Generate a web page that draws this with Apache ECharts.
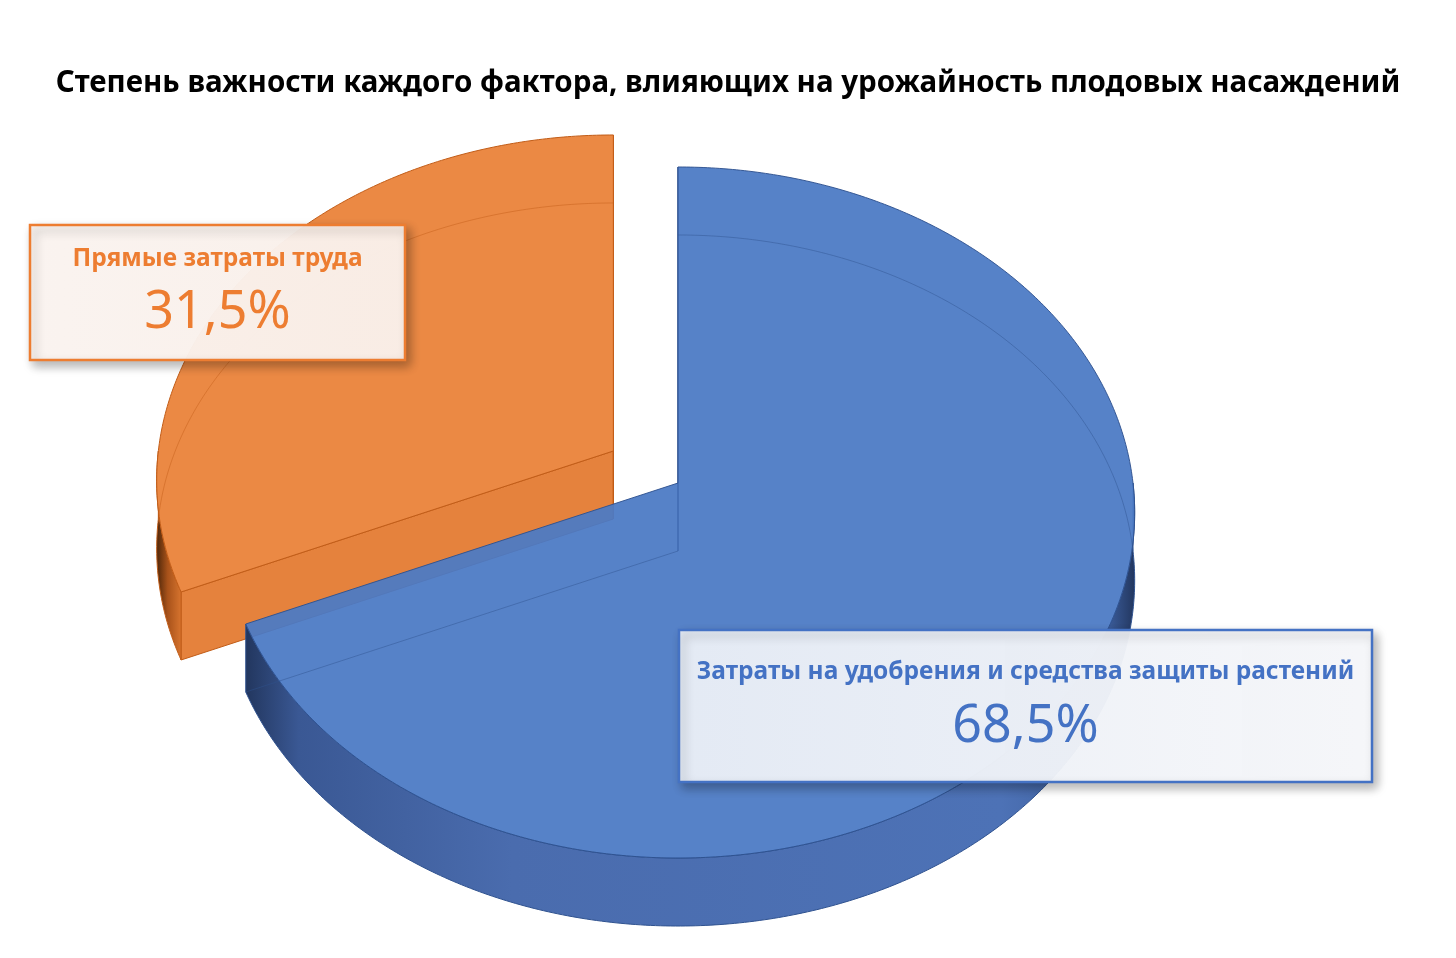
<!DOCTYPE html>
<html lang="ru">
<head>
    <meta charset="UTF-8">
    <title>Степень важности каждого фактора</title>
    <script src="https://cdn.jsdelivr.net/npm/echarts@6/dist/echarts.min.js"></script>
    <style>
        html, body { margin: 0; padding: 0; background: #fff; }
        #container { width: 1456px; height: 958px; }
    </style>
</head>
<body>
<div id="container"></div>

<script type="text/javascript">
    // данные диаграммы
    var categories = ['Затраты на удобрения и средства защиты растений', 'Прямые затраты труда'];
    var shares = [68.5, 31.5];

    // оформление секторов
    var sliceColors = ['#4B7AC5', '#EB8944'];
    var textColors = ['#4472C4', '#ED7D31'];
    var edgeColors = ['#2F528F', '#C15C17'];
    var explode = [0, 0.17];

    // геометрия "3D" круга (псевдоперспектива как в Excel)
    var CX = 678, CY = 483, RX = 455, RY = 343, K = 0.0854, DEPTH = 68;
    // рамки подписей: x, y, ширина, высота
    var labelBoxes = [[679, 630, 693, 152], [30, 225, 375, 135]];

    var total = shares.reduce(function (a, b) { return a + b; }, 0);

    // проекция точки круга; выдвинутый сектор просто сдвигается на экране
    function proj(u, v, down, ex, ev) {
        var s = 1 / (1 - K * v);
        return [CX + RX * u * s + RX * ex, CY + RY * v * s + RY * ev + down];
    }

    function arc(a0, a1, ex, ev, down) {
        var pts = [];
        var n = Math.max(2, Math.ceil((a1 - a0) / 0.01));
        for (var k = 0; k <= n; k++) {
            var a = a0 + (a1 - a0) * k / n;
            pts.push(proj(Math.sin(a), -Math.cos(a), down, ex, ev));
        }
        return pts;
    }

    function pctText(v) {
        return (v / total * 100).toFixed(1).replace('.', ',') + '%';
    }

    function renderSlice(params, api) {
        var i = params.dataIndex;
        var before = 0;
        for (var j = 0; j < i; j++) before += shares[j];
        var start = before / total * Math.PI * 2;
        var end = (before + api.value(0)) / total * Math.PI * 2;
        var mid = (start + end) / 2;
        var ex = explode[i] * Math.sin(mid);
        var ev = -explode[i] * Math.cos(mid);
        var base = (shares.length - i) * 10;
        var kids = [];

        var apexTop = proj(0, 0, 0, ex, ev);
        var apexBot = proj(0, 0, DEPTH, ex, ev);
        var faint = { stroke: edgeColors[i], lineWidth: 1, opacity: 0.45, fill: null };

        // радиальные грани
        [[start, -Math.sin(start)], [end, Math.sin(end)]].forEach(function (f) {
            var a = f[0];
            var rt = proj(Math.sin(a), -Math.cos(a), 0, ex, ev);
            var rb = proj(Math.sin(a), -Math.cos(a), DEPTH, ex, ev);
            if (f[1] > -1e-6) {
                kids.push({
                    type: 'polygon', z2: base + 1,
                    shape: { points: [apexTop, rt, rb, apexBot] },
                    style: { fill: i === 0 ? '#3F64A6' : '#E5823D', stroke: edgeColors[i], lineWidth: 1 }
                });
            } else {
                kids.push({ type: 'polyline', z2: base + 4, shape: { points: [apexBot, rb] }, style: faint });
                kids.push({ type: 'polyline', z2: base + 4, shape: { points: [apexTop, apexBot] }, style: faint });
            }
        });

        // видимая боковая стенка
        var w0 = Math.max(start, Math.PI / 2), w1 = Math.min(end, Math.PI * 1.5);
        if (w1 > w0) {
            var topArc = arc(w0, w1, ex, ev, 0);
            var botArc = arc(w0, w1, ex, ev, DEPTH).reverse();
            var wallStops = i === 0
                ? [{ offset: 0, color: '#22365E' }, { offset: 0.06, color: '#3A5894' }, { offset: 0.3, color: '#4A6CAE' },
                   { offset: 0.85, color: '#4D72B6' }, { offset: 0.97, color: '#3B5C9A' }, { offset: 1, color: '#22365E' }]
                : [{ offset: 0, color: '#4A2408' }, { offset: 0.45, color: '#A8521A' }, { offset: 1, color: '#D8752F' }];
            kids.push({
                type: 'polygon', z2: base + 2,
                shape: { points: topArc.concat(botArc) },
                style: {
                    fill: new echarts.graphic.LinearGradient(0, 0, 1, 0, wallStops),
                    stroke: edgeColors[i], lineWidth: 1
                }
            });
        }

        // скрытые рёбра дна, видимые сквозь прозрачный сектор
        [[0, Math.PI / 2], [Math.PI * 1.5, Math.PI * 2]].forEach(function (r) {
            var h0 = Math.max(start, r[0]), h1 = Math.min(end, r[1]);
            if (h1 > h0) {
                kids.push({ type: 'polyline', z2: base + 4, shape: { points: arc(h0, h1, ex, ev, DEPTH) }, style: faint });
            }
        });

        // верхняя грань
        kids.push({
            type: 'polygon', z2: base + 3,
            shape: { points: [apexTop].concat(arc(start, end, ex, ev, 0)) },
            style: { fill: sliceColors[i], stroke: edgeColors[i], lineWidth: 1, opacity: i === 0 ? 0.94 : 1 }
        });

        // подпись
        var b = labelBoxes[i];
        var big = b[3] > 140;
        kids.push({
            type: 'rect', z2: 200,
            shape: { x: b[0], y: b[1], width: b[2], height: b[3] },
            style: {
                fill: new echarts.graphic.LinearGradient(0, 0, 1, 0, i === 0
                    ? [{ offset: 0, color: 'rgba(236,241,249,0.95)' }, { offset: 1, color: 'rgba(248,249,252,0.96)' }]
                    : [{ offset: 0, color: 'rgba(253,246,242,0.96)' }, { offset: 1, color: 'rgba(252,242,236,0.96)' }]),
                stroke: textColors[i], lineWidth: 2.5,
                shadowBlur: 10, shadowColor: 'rgba(0,0,0,0.3)', shadowOffsetX: 4, shadowOffsetY: 5
            }
        });
        kids.push({
            type: 'text', z2: 201,
            x: b[0] + b[2] / 2, y: b[1] + (big ? 42 : 34),
            style: {
                text: categories[i], fill: textColors[i], fontFamily: 'Noto Sans', fontWeight: 'bold',
                fontSize: 24.5, align: 'center', verticalAlign: 'middle'
            }
        });
        kids.push({
            type: 'text', z2: 201,
            x: b[0] + b[2] / 2, y: b[1] + (big ? 97 : 88),
            style: {
                text: pctText(api.value(0)), fill: textColors[i], fontFamily: 'Noto Sans',
                fontSize: 52, align: 'center', verticalAlign: 'middle'
            }
        });

        return { type: 'group', children: kids };
    }

    var dom = document.getElementById('container');
    var myChart = echarts.init(dom, null, { renderer: 'canvas' });

    var option = {
        animation: false,
        title: {
            text: 'Степень важности каждого фактора, влияющих на урожайность плодовых насаждений',
            left: 'center',
            top: 64,
            textStyle: { fontFamily: 'Noto Sans', fontWeight: 'bold', fontSize: 29.5, color: '#000' }
        },
        series: [{
            type: 'custom',
            coordinateSystem: 'none',
            renderItem: renderSlice,
            data: shares.map(function (v, i) { return { name: categories[i], value: v }; })
        }]
    };

    myChart.setOption(option);
    window.addEventListener('resize', myChart.resize);
</script>
</body>
</html>
